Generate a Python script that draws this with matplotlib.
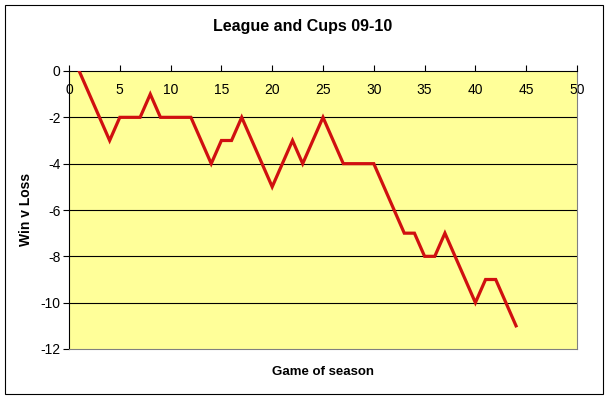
import matplotlib
matplotlib.use('Agg')
import matplotlib.pyplot as plt
from matplotlib.patches import Rectangle

# game number and running win-minus-loss tally
games = list(range(1, 45))
win_v_loss = [0, -1, -2, -3, -2, -2, -2, -1, -2, -2,
              -2, -2, -3, -4, -3, -3, -2, -3, -4, -5,
              -4, -3, -4, -3, -2, -3, -4, -4, -4, -4,
              -5, -6, -7, -7, -8, -8, -7, -8, -9, -10,
              -9, -9, -10, -11]
x_ticks = [0, 5, 10, 15, 20, 25, 30, 35, 40, 45, 50]
y_ticks = [0, -2, -4, -6, -8, -10, -12]

plt.rcParams['font.family'] = ['Liberation Sans', 'DejaVu Sans']
plt.rcParams['axes.unicode_minus'] = False

fig = plt.figure(figsize=(6.09, 3.99), dpi=100)
fig.patch.set_facecolor('white')
ax = fig.add_axes([69 / 609, 1 - 349 / 399, 508 / 609, 278 / 399])
ax.set_facecolor('#ffff99')

for y in y_ticks[1:-1]:
    ax.axhline(y, color='black', linewidth=0.8, zorder=1)

ax.plot(games, win_v_loss, color='#d01010', linewidth=2.3,
        solid_joinstyle='miter', zorder=3)

ax.set_xlim(0, 50)
ax.set_ylim(-12, 0)
ax.set_xticks(x_ticks)
ax.set_yticks(y_ticks)

# x axis sits on the zero line at the top, labels drawn just under it
ax.tick_params(axis='x', bottom=False, labelbottom=False, top=True,
               labeltop=True, direction='out', length=4, width=0.8,
               pad=-23, labelsize=10)
ax.tick_params(axis='y', direction='out', length=4, width=0.8,
               pad=2, labelsize=10)

ax.spines['left'].set_color('black')
ax.spines['top'].set_color('black')
ax.spines['right'].set_color('#808080')
ax.spines['bottom'].set_color('#808080')
for s in ax.spines.values():
    s.set_linewidth(0.8)

fig.text(303 / 609, 1 - 27 / 399, 'League and Cups 09-10', ha='center',
         va='center', fontsize=11.5, fontweight='bold')
fig.text(323 / 609, 1 - 372 / 399, 'Game of season', ha='center',
         va='center', fontsize=9.5, fontweight='bold')
fig.text(26 / 609, 1 - 209 / 399, 'Win v Loss', ha='center', va='center',
         rotation=90, fontsize=10, fontweight='bold')

fig.patches.append(Rectangle((5 / 609, 1 - 394 / 399), 598 / 609,
                             389 / 399, transform=fig.transFigure,
                             fill=False, edgecolor='black', linewidth=0.8))

plt.savefig('out.png', dpi=100)
plt.close(fig)
